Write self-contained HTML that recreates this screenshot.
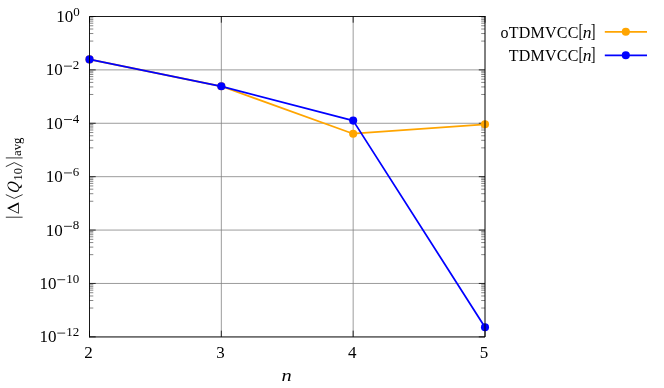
<!DOCTYPE html>
<html><head><meta charset="utf-8"><title>plot</title>
<style>
html,body{margin:0;padding:0;background:#fff;}
body{width:664px;height:388px;overflow:hidden;}
svg{display:block;}
text{font-family:"Liberation Serif",serif;fill:#000;}
.t{font-size:18px;}
.k{font-size:16.5px;}
.e{font-size:13px;}
.lg{font-size:16px;}
.i{font-style:italic;}
</style></head><body>
<svg width="664" height="388" viewBox="0 0 664 388">
<rect width="664" height="388" fill="#fff"/>
<line x1="221.33" y1="16.5" x2="221.33" y2="336.85" stroke="#808080" stroke-width="0.78"/>
<line x1="353.17" y1="16.5" x2="353.17" y2="336.85" stroke="#808080" stroke-width="0.78"/>
<line x1="89.5" y1="69.89" x2="485.0" y2="69.89" stroke="#808080" stroke-width="0.78"/>
<line x1="89.5" y1="123.28" x2="485.0" y2="123.28" stroke="#808080" stroke-width="0.78"/>
<line x1="89.5" y1="176.68" x2="485.0" y2="176.68" stroke="#808080" stroke-width="0.78"/>
<line x1="89.5" y1="230.07" x2="485.0" y2="230.07" stroke="#808080" stroke-width="0.78"/>
<line x1="89.5" y1="283.46" x2="485.0" y2="283.46" stroke="#808080" stroke-width="0.78"/>
<line x1="89.5" y1="41.08" x2="93.3" y2="41.08" stroke="#222" stroke-width="0.55"/>
<line x1="485.0" y1="41.08" x2="481.2" y2="41.08" stroke="#222" stroke-width="0.55"/>
<line x1="89.5" y1="33.54" x2="93.3" y2="33.54" stroke="#222" stroke-width="0.55"/>
<line x1="485.0" y1="33.54" x2="481.2" y2="33.54" stroke="#222" stroke-width="0.55"/>
<line x1="89.5" y1="29.01" x2="93.3" y2="29.01" stroke="#222" stroke-width="0.55"/>
<line x1="485.0" y1="29.01" x2="481.2" y2="29.01" stroke="#222" stroke-width="0.55"/>
<line x1="89.5" y1="25.76" x2="93.3" y2="25.76" stroke="#222" stroke-width="0.55"/>
<line x1="485.0" y1="25.76" x2="481.2" y2="25.76" stroke="#222" stroke-width="0.55"/>
<line x1="89.5" y1="23.22" x2="93.3" y2="23.22" stroke="#222" stroke-width="0.55"/>
<line x1="485.0" y1="23.22" x2="481.2" y2="23.22" stroke="#222" stroke-width="0.55"/>
<line x1="89.5" y1="21.14" x2="93.3" y2="21.14" stroke="#222" stroke-width="0.55"/>
<line x1="485.0" y1="21.14" x2="481.2" y2="21.14" stroke="#222" stroke-width="0.55"/>
<line x1="89.5" y1="19.38" x2="93.3" y2="19.38" stroke="#222" stroke-width="0.55"/>
<line x1="485.0" y1="19.38" x2="481.2" y2="19.38" stroke="#222" stroke-width="0.55"/>
<line x1="89.5" y1="17.85" x2="93.3" y2="17.85" stroke="#222" stroke-width="0.55"/>
<line x1="485.0" y1="17.85" x2="481.2" y2="17.85" stroke="#222" stroke-width="0.55"/>
<line x1="89.5" y1="94.47" x2="93.3" y2="94.47" stroke="#222" stroke-width="0.55"/>
<line x1="485.0" y1="94.47" x2="481.2" y2="94.47" stroke="#222" stroke-width="0.55"/>
<line x1="89.5" y1="86.93" x2="93.3" y2="86.93" stroke="#222" stroke-width="0.55"/>
<line x1="485.0" y1="86.93" x2="481.2" y2="86.93" stroke="#222" stroke-width="0.55"/>
<line x1="89.5" y1="82.40" x2="93.3" y2="82.40" stroke="#222" stroke-width="0.55"/>
<line x1="485.0" y1="82.40" x2="481.2" y2="82.40" stroke="#222" stroke-width="0.55"/>
<line x1="89.5" y1="79.15" x2="93.3" y2="79.15" stroke="#222" stroke-width="0.55"/>
<line x1="485.0" y1="79.15" x2="481.2" y2="79.15" stroke="#222" stroke-width="0.55"/>
<line x1="89.5" y1="76.61" x2="93.3" y2="76.61" stroke="#222" stroke-width="0.55"/>
<line x1="485.0" y1="76.61" x2="481.2" y2="76.61" stroke="#222" stroke-width="0.55"/>
<line x1="89.5" y1="74.53" x2="93.3" y2="74.53" stroke="#222" stroke-width="0.55"/>
<line x1="485.0" y1="74.53" x2="481.2" y2="74.53" stroke="#222" stroke-width="0.55"/>
<line x1="89.5" y1="72.77" x2="93.3" y2="72.77" stroke="#222" stroke-width="0.55"/>
<line x1="485.0" y1="72.77" x2="481.2" y2="72.77" stroke="#222" stroke-width="0.55"/>
<line x1="89.5" y1="71.24" x2="93.3" y2="71.24" stroke="#222" stroke-width="0.55"/>
<line x1="485.0" y1="71.24" x2="481.2" y2="71.24" stroke="#222" stroke-width="0.55"/>
<line x1="89.5" y1="147.87" x2="93.3" y2="147.87" stroke="#222" stroke-width="0.55"/>
<line x1="485.0" y1="147.87" x2="481.2" y2="147.87" stroke="#222" stroke-width="0.55"/>
<line x1="89.5" y1="140.32" x2="93.3" y2="140.32" stroke="#222" stroke-width="0.55"/>
<line x1="485.0" y1="140.32" x2="481.2" y2="140.32" stroke="#222" stroke-width="0.55"/>
<line x1="89.5" y1="135.79" x2="93.3" y2="135.79" stroke="#222" stroke-width="0.55"/>
<line x1="485.0" y1="135.79" x2="481.2" y2="135.79" stroke="#222" stroke-width="0.55"/>
<line x1="89.5" y1="132.54" x2="93.3" y2="132.54" stroke="#222" stroke-width="0.55"/>
<line x1="485.0" y1="132.54" x2="481.2" y2="132.54" stroke="#222" stroke-width="0.55"/>
<line x1="89.5" y1="130.01" x2="93.3" y2="130.01" stroke="#222" stroke-width="0.55"/>
<line x1="485.0" y1="130.01" x2="481.2" y2="130.01" stroke="#222" stroke-width="0.55"/>
<line x1="89.5" y1="127.93" x2="93.3" y2="127.93" stroke="#222" stroke-width="0.55"/>
<line x1="485.0" y1="127.93" x2="481.2" y2="127.93" stroke="#222" stroke-width="0.55"/>
<line x1="89.5" y1="126.16" x2="93.3" y2="126.16" stroke="#222" stroke-width="0.55"/>
<line x1="485.0" y1="126.16" x2="481.2" y2="126.16" stroke="#222" stroke-width="0.55"/>
<line x1="89.5" y1="124.63" x2="93.3" y2="124.63" stroke="#222" stroke-width="0.55"/>
<line x1="485.0" y1="124.63" x2="481.2" y2="124.63" stroke="#222" stroke-width="0.55"/>
<line x1="89.5" y1="201.26" x2="93.3" y2="201.26" stroke="#222" stroke-width="0.55"/>
<line x1="485.0" y1="201.26" x2="481.2" y2="201.26" stroke="#222" stroke-width="0.55"/>
<line x1="89.5" y1="193.71" x2="93.3" y2="193.71" stroke="#222" stroke-width="0.55"/>
<line x1="485.0" y1="193.71" x2="481.2" y2="193.71" stroke="#222" stroke-width="0.55"/>
<line x1="89.5" y1="189.18" x2="93.3" y2="189.18" stroke="#222" stroke-width="0.55"/>
<line x1="485.0" y1="189.18" x2="481.2" y2="189.18" stroke="#222" stroke-width="0.55"/>
<line x1="89.5" y1="185.93" x2="93.3" y2="185.93" stroke="#222" stroke-width="0.55"/>
<line x1="485.0" y1="185.93" x2="481.2" y2="185.93" stroke="#222" stroke-width="0.55"/>
<line x1="89.5" y1="183.40" x2="93.3" y2="183.40" stroke="#222" stroke-width="0.55"/>
<line x1="485.0" y1="183.40" x2="481.2" y2="183.40" stroke="#222" stroke-width="0.55"/>
<line x1="89.5" y1="181.32" x2="93.3" y2="181.32" stroke="#222" stroke-width="0.55"/>
<line x1="485.0" y1="181.32" x2="481.2" y2="181.32" stroke="#222" stroke-width="0.55"/>
<line x1="89.5" y1="179.56" x2="93.3" y2="179.56" stroke="#222" stroke-width="0.55"/>
<line x1="485.0" y1="179.56" x2="481.2" y2="179.56" stroke="#222" stroke-width="0.55"/>
<line x1="89.5" y1="178.03" x2="93.3" y2="178.03" stroke="#222" stroke-width="0.55"/>
<line x1="485.0" y1="178.03" x2="481.2" y2="178.03" stroke="#222" stroke-width="0.55"/>
<line x1="89.5" y1="254.65" x2="93.3" y2="254.65" stroke="#222" stroke-width="0.55"/>
<line x1="485.0" y1="254.65" x2="481.2" y2="254.65" stroke="#222" stroke-width="0.55"/>
<line x1="89.5" y1="247.11" x2="93.3" y2="247.11" stroke="#222" stroke-width="0.55"/>
<line x1="485.0" y1="247.11" x2="481.2" y2="247.11" stroke="#222" stroke-width="0.55"/>
<line x1="89.5" y1="242.57" x2="93.3" y2="242.57" stroke="#222" stroke-width="0.55"/>
<line x1="485.0" y1="242.57" x2="481.2" y2="242.57" stroke="#222" stroke-width="0.55"/>
<line x1="89.5" y1="239.32" x2="93.3" y2="239.32" stroke="#222" stroke-width="0.55"/>
<line x1="485.0" y1="239.32" x2="481.2" y2="239.32" stroke="#222" stroke-width="0.55"/>
<line x1="89.5" y1="236.79" x2="93.3" y2="236.79" stroke="#222" stroke-width="0.55"/>
<line x1="485.0" y1="236.79" x2="481.2" y2="236.79" stroke="#222" stroke-width="0.55"/>
<line x1="89.5" y1="234.71" x2="93.3" y2="234.71" stroke="#222" stroke-width="0.55"/>
<line x1="485.0" y1="234.71" x2="481.2" y2="234.71" stroke="#222" stroke-width="0.55"/>
<line x1="89.5" y1="232.95" x2="93.3" y2="232.95" stroke="#222" stroke-width="0.55"/>
<line x1="485.0" y1="232.95" x2="481.2" y2="232.95" stroke="#222" stroke-width="0.55"/>
<line x1="89.5" y1="231.42" x2="93.3" y2="231.42" stroke="#222" stroke-width="0.55"/>
<line x1="485.0" y1="231.42" x2="481.2" y2="231.42" stroke="#222" stroke-width="0.55"/>
<line x1="89.5" y1="308.04" x2="93.3" y2="308.04" stroke="#222" stroke-width="0.55"/>
<line x1="485.0" y1="308.04" x2="481.2" y2="308.04" stroke="#222" stroke-width="0.55"/>
<line x1="89.5" y1="300.50" x2="93.3" y2="300.50" stroke="#222" stroke-width="0.55"/>
<line x1="485.0" y1="300.50" x2="481.2" y2="300.50" stroke="#222" stroke-width="0.55"/>
<line x1="89.5" y1="295.97" x2="93.3" y2="295.97" stroke="#222" stroke-width="0.55"/>
<line x1="485.0" y1="295.97" x2="481.2" y2="295.97" stroke="#222" stroke-width="0.55"/>
<line x1="89.5" y1="292.72" x2="93.3" y2="292.72" stroke="#222" stroke-width="0.55"/>
<line x1="485.0" y1="292.72" x2="481.2" y2="292.72" stroke="#222" stroke-width="0.55"/>
<line x1="89.5" y1="290.18" x2="93.3" y2="290.18" stroke="#222" stroke-width="0.55"/>
<line x1="485.0" y1="290.18" x2="481.2" y2="290.18" stroke="#222" stroke-width="0.55"/>
<line x1="89.5" y1="288.10" x2="93.3" y2="288.10" stroke="#222" stroke-width="0.55"/>
<line x1="485.0" y1="288.10" x2="481.2" y2="288.10" stroke="#222" stroke-width="0.55"/>
<line x1="89.5" y1="286.34" x2="93.3" y2="286.34" stroke="#222" stroke-width="0.55"/>
<line x1="485.0" y1="286.34" x2="481.2" y2="286.34" stroke="#222" stroke-width="0.55"/>
<line x1="89.5" y1="284.81" x2="93.3" y2="284.81" stroke="#222" stroke-width="0.55"/>
<line x1="485.0" y1="284.81" x2="481.2" y2="284.81" stroke="#222" stroke-width="0.55"/>
<line x1="89.5" y1="16.50" x2="95.7" y2="16.50" stroke="#1c1c1c" stroke-width="0.9"/>
<line x1="485.0" y1="16.50" x2="478.8" y2="16.50" stroke="#1c1c1c" stroke-width="0.9"/>
<line x1="89.5" y1="69.89" x2="95.7" y2="69.89" stroke="#1c1c1c" stroke-width="0.9"/>
<line x1="485.0" y1="69.89" x2="478.8" y2="69.89" stroke="#1c1c1c" stroke-width="0.9"/>
<line x1="89.5" y1="123.28" x2="95.7" y2="123.28" stroke="#1c1c1c" stroke-width="0.9"/>
<line x1="485.0" y1="123.28" x2="478.8" y2="123.28" stroke="#1c1c1c" stroke-width="0.9"/>
<line x1="89.5" y1="176.68" x2="95.7" y2="176.68" stroke="#1c1c1c" stroke-width="0.9"/>
<line x1="485.0" y1="176.68" x2="478.8" y2="176.68" stroke="#1c1c1c" stroke-width="0.9"/>
<line x1="89.5" y1="230.07" x2="95.7" y2="230.07" stroke="#1c1c1c" stroke-width="0.9"/>
<line x1="485.0" y1="230.07" x2="478.8" y2="230.07" stroke="#1c1c1c" stroke-width="0.9"/>
<line x1="89.5" y1="283.46" x2="95.7" y2="283.46" stroke="#1c1c1c" stroke-width="0.9"/>
<line x1="485.0" y1="283.46" x2="478.8" y2="283.46" stroke="#1c1c1c" stroke-width="0.9"/>
<line x1="89.5" y1="336.85" x2="95.7" y2="336.85" stroke="#1c1c1c" stroke-width="0.9"/>
<line x1="485.0" y1="336.85" x2="478.8" y2="336.85" stroke="#1c1c1c" stroke-width="0.9"/>
<line x1="89.50" y1="16.5" x2="89.50" y2="22.7" stroke="#1c1c1c" stroke-width="0.9"/>
<line x1="89.50" y1="336.85" x2="89.50" y2="330.65000000000003" stroke="#1c1c1c" stroke-width="0.9"/>
<line x1="221.33" y1="16.5" x2="221.33" y2="22.7" stroke="#1c1c1c" stroke-width="0.9"/>
<line x1="221.33" y1="336.85" x2="221.33" y2="330.65000000000003" stroke="#1c1c1c" stroke-width="0.9"/>
<line x1="353.17" y1="16.5" x2="353.17" y2="22.7" stroke="#1c1c1c" stroke-width="0.9"/>
<line x1="353.17" y1="336.85" x2="353.17" y2="330.65000000000003" stroke="#1c1c1c" stroke-width="0.9"/>
<line x1="485.00" y1="16.5" x2="485.00" y2="22.7" stroke="#1c1c1c" stroke-width="0.9"/>
<line x1="485.00" y1="336.85" x2="485.00" y2="330.65000000000003" stroke="#1c1c1c" stroke-width="0.9"/>
<polyline points="89.50,59.4 221.33,86.3 353.17,133.7 485.00,124.3" fill="none" stroke="#ffa500" stroke-width="1.75" stroke-linejoin="round"/>
<circle cx="89.50" cy="59.4" r="4.05" fill="#ffa500"/>
<circle cx="221.33" cy="86.3" r="4.05" fill="#ffa500"/>
<circle cx="353.17" cy="133.7" r="4.05" fill="#ffa500"/>
<circle cx="485.00" cy="124.3" r="4.05" fill="#ffa500"/>
<polyline points="89.50,59.4 221.33,86.3 353.17,120.6 485.00,327.2" fill="none" stroke="#0000ff" stroke-width="1.75" stroke-linejoin="round"/>
<circle cx="89.50" cy="59.4" r="4.05" fill="#0000ff"/>
<circle cx="221.33" cy="86.3" r="4.05" fill="#0000ff"/>
<circle cx="353.17" cy="120.6" r="4.05" fill="#0000ff"/>
<circle cx="485.00" cy="327.2" r="4.05" fill="#0000ff"/>
<path d="M89.5,337.35 V16.5 H485.5" fill="none" stroke="#000" stroke-width="0.9"/>
<path d="M89.05,336.95000000000005 H485.0 V16.05" fill="none" stroke="#000" stroke-width="1.0"/>
<g style="opacity:0.999">
<text class="k" x="56.20" y="22.00" textLength="17" lengthAdjust="spacingAndGlyphs">10</text>
<text class="e" x="79.7" y="15.80" text-anchor="end">0</text>
<text class="k" x="45.70" y="75.39" textLength="17" lengthAdjust="spacingAndGlyphs">10</text>
<line x1="64" y1="66.14" x2="72" y2="66.14" stroke="#000" stroke-width="0.8"/>
<text class="e" x="79.3" y="69.19" text-anchor="end">2</text>
<text class="k" x="45.70" y="128.78" textLength="17" lengthAdjust="spacingAndGlyphs">10</text>
<line x1="64" y1="119.53" x2="72" y2="119.53" stroke="#000" stroke-width="0.8"/>
<text class="e" x="79.3" y="122.58" text-anchor="end">4</text>
<text class="k" x="45.70" y="182.18" textLength="17" lengthAdjust="spacingAndGlyphs">10</text>
<line x1="64" y1="172.93" x2="72" y2="172.93" stroke="#000" stroke-width="0.8"/>
<text class="e" x="79.3" y="175.98" text-anchor="end">6</text>
<text class="k" x="45.70" y="235.57" textLength="17" lengthAdjust="spacingAndGlyphs">10</text>
<line x1="64" y1="226.32" x2="72" y2="226.32" stroke="#000" stroke-width="0.8"/>
<text class="e" x="79.3" y="229.37" text-anchor="end">8</text>
<text class="k" x="39.50" y="288.96" textLength="17" lengthAdjust="spacingAndGlyphs">10</text>
<line x1="57.3" y1="279.71" x2="65.2" y2="279.71" stroke="#000" stroke-width="0.8"/>
<text class="e" x="79.3" y="282.76" text-anchor="end">10</text>
<text class="k" x="39.50" y="342.35" textLength="17" lengthAdjust="spacingAndGlyphs">10</text>
<line x1="57.3" y1="333.10" x2="65.2" y2="333.10" stroke="#000" stroke-width="0.8"/>
<text class="e" x="79.3" y="336.15" text-anchor="end">12</text>
<text class="k" x="84.35" y="357.6" textLength="8.5" lengthAdjust="spacingAndGlyphs">2</text>
<text class="k" x="216.18" y="357.6" textLength="8.5" lengthAdjust="spacingAndGlyphs">3</text>
<text class="k" x="348.02" y="357.6" textLength="8.5" lengthAdjust="spacingAndGlyphs">4</text>
<text class="k" x="479.85" y="357.6" textLength="8.5" lengthAdjust="spacingAndGlyphs">5</text>
<g transform="translate(281.4,381) scale(1.2,1)"><text class="i" x="0" y="0" style="font-size:17px">n</text></g>
<g transform="translate(19,218) rotate(-90)">
<line x1="0.8" y1="-13.2" x2="0.8" y2="3.6" stroke="#000" stroke-width="0.8"/>
<path d="M4.20,-0.15 L9.95,-11.9 L15.70,-0.15 Z M5.37,-1.00 L13.38,-1.00 L9.38,-9.19 Z" fill="#000" fill-rule="evenodd"/>
<polyline points="23.4,-13.2 19.6,-4.8 23.4,3.6" fill="none" stroke="#000" stroke-width="0.8"/>
<g transform="translate(24.6,0) skewX(-9) scale(0.88,1)"><text class="t i" x="0" y="0" style="font-size:17.5px">Q</text></g>
<text class="e" x="37.6" y="2.5" style="font-size:12.4px">10</text>
<polyline points="51.4,-13.2 55.4,-4.8 51.4,3.6" fill="none" stroke="#000" stroke-width="0.8"/>
<line x1="60.1" y1="-13.2" x2="60.1" y2="3.6" stroke="#000" stroke-width="0.8"/>
<text class="e" x="62.1" y="2.3" style="font-size:12px" textLength="18.4" lengthAdjust="spacingAndGlyphs">avg</text>
</g>
<text class="lg" x="578.6" y="37.6" text-anchor="end" style="letter-spacing:0.24px">oTDMVCC</text>
<g transform="translate(578.5,37.1) scale(0.8,1)"><text x="0" y="0" style="font-size:18px">[</text></g>
<g transform="translate(582.7,37.6) scale(1.1,1)"><text class="lg i" x="0" y="0">n</text></g>
<g transform="translate(595.5,37.1) scale(0.8,1)"><text x="0" y="0" text-anchor="end" style="font-size:18px">]</text></g>
<text class="lg" x="578.6" y="60.6" text-anchor="end" style="letter-spacing:0.24px">TDMVCC</text>
<g transform="translate(578.5,60.1) scale(0.8,1)"><text x="0" y="0" style="font-size:18px">[</text></g>
<g transform="translate(582.7,60.6) scale(1.1,1)"><text class="lg i" x="0" y="0">n</text></g>
<g transform="translate(595.5,60.1) scale(0.8,1)"><text x="0" y="0" text-anchor="end" style="font-size:18px">]</text></g>
<line x1="604.8" y1="31.8" x2="647" y2="31.8" stroke="#ffa500" stroke-width="1.75"/>
<circle cx="625.8" cy="31.8" r="4.05" fill="#ffa500"/>
<line x1="604.8" y1="55.3" x2="647" y2="55.3" stroke="#0000ff" stroke-width="1.75"/>
<circle cx="625.8" cy="55.3" r="4.05" fill="#0000ff"/>
</g>
</svg></body></html>
